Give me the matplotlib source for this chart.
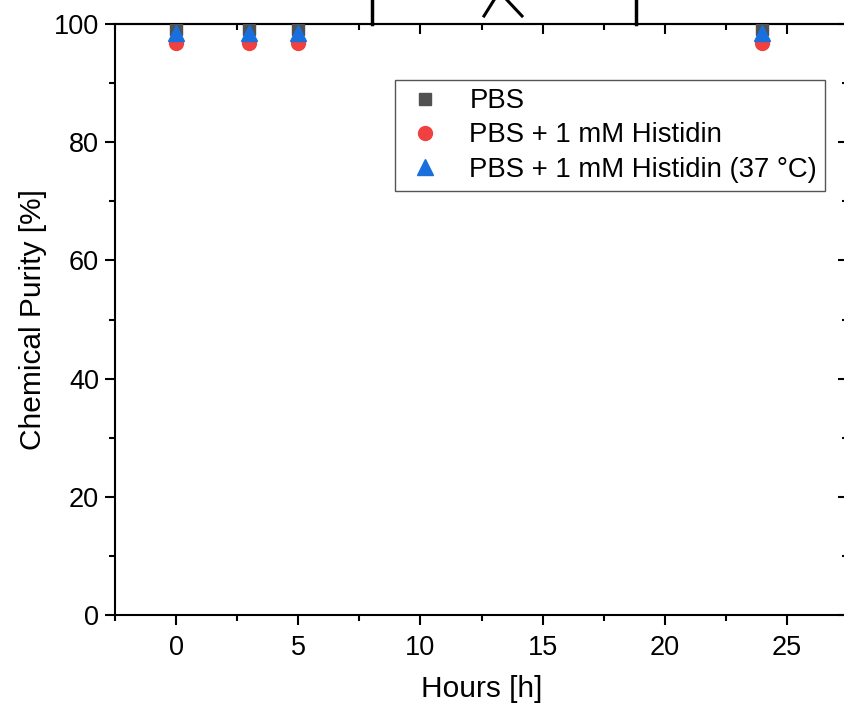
import matplotlib
matplotlib.use("Agg")
import matplotlib.pyplot as plt
from matplotlib.lines import Line2D
from matplotlib.ticker import MultipleLocator

# ============================================================
# DATA
# ============================================================
hours = [0, 3, 5, 24]
purity_pbs = [99.2, 99.2, 99.2, 99.2]
purity_his = [96.8, 96.8, 96.8, 96.8]
purity_his37 = [98.4, 98.4, 98.4, 98.4]

labels = ["PBS", "PBS + 1 mM Histidin", "PBS + 1 mM Histidin (37 °C)"]
colors = ["#515151", "#F14040", "#1A6FDF"]

plt.rcParams['font.family'] = ['Liberation Sans', 'DejaVu Sans']

W, H = 844, 707
fig = plt.figure(figsize=(W / 100, H / 100), dpi=100)

# axes placed in pixel terms (right edge runs slightly past the picture)
x0, x1, y0, y1 = 115, 848, 615, 24
ax = fig.add_axes([x0 / W, 1 - y0 / H, (x1 - x0) / W, (y0 - y1) / H])

ax.plot(hours, purity_pbs, ls='none', marker='s', ms=9, color=colors[0], label=labels[0], zorder=3)
ax.plot(hours, purity_his, ls='none', marker='o', ms=10, color=colors[1], label=labels[1], zorder=4)
ax.plot(hours, purity_his37, ls='none', marker='^', ms=11, color=colors[2], label=labels[2], zorder=5)

ax.set_xlim(-2.5, 27.5)
ax.set_ylim(0, 100)
ax.xaxis.set_major_locator(MultipleLocator(5))
ax.xaxis.set_minor_locator(MultipleLocator(2.5))
ax.yaxis.set_major_locator(MultipleLocator(20))
ax.yaxis.set_minor_locator(MultipleLocator(10))

ax.tick_params(which='both', direction='out', width=1.5, labelsize=19.5, colors='black')
ax.tick_params(which='major', length=7.5)
ax.tick_params(axis='x', which='major', pad=7)
ax.tick_params(axis='y', which='major', pad=4)
ax.tick_params(which='minor', length=4)
for spine in ax.spines.values():
    spine.set_linewidth(1.5)

# inward ticks on top and right (Origin style)
top = ax.secondary_xaxis('top')
top.xaxis.set_major_locator(MultipleLocator(5))
top.xaxis.set_minor_locator(MultipleLocator(2.5))
top.tick_params(which='both', direction='in', width=1.5, labeltop=False)
top.tick_params(which='major', length=7.5)
top.tick_params(which='minor', length=4)
top.spines['top'].set_linewidth(1.5)

right = ax.secondary_yaxis('right')
right.yaxis.set_major_locator(MultipleLocator(20))
right.yaxis.set_minor_locator(MultipleLocator(10))
right.tick_params(which='both', direction='in', width=1.5, labelright=False)
right.tick_params(which='major', length=7.5)
right.tick_params(which='minor', length=4)
right.spines['right'].set_linewidth(1.5)

ax.set_xlabel("Hours [h]", fontsize=21.5, labelpad=10)
ax.set_ylabel("Chemical Purity [%]", fontsize=21.5, labelpad=5)

leg = ax.legend(loc='upper left', bbox_to_anchor=(395 / W, 1 - 80 / H),
                bbox_transform=fig.transFigure, fontsize=19.8, frameon=True,
                fancybox=False, framealpha=1, edgecolor='#555555',
                labelspacing=0.3, borderpad=0.3, handlelength=1.6,
                handletextpad=0.8, borderaxespad=0)
leg.get_frame().set_linewidth(1.0)

# cropped drawing sitting above the frame
def fig_line(xa, ya, xb, yb, lw=2.5):
    fig.add_artist(Line2D([xa / W, xb / W], [1 - ya / H, 1 - yb / H],
                          transform=fig.transFigure, color='black', lw=lw,
                          clip_on=False))

fig_line(372, 0, 372, 24)
fig_line(636, 0, 636, 24)
fig_line(484, 16, 494, 0, lw=2.2)
fig_line(507, 0, 522, 16, lw=2.2)

plt.savefig("out.png", dpi=100)
